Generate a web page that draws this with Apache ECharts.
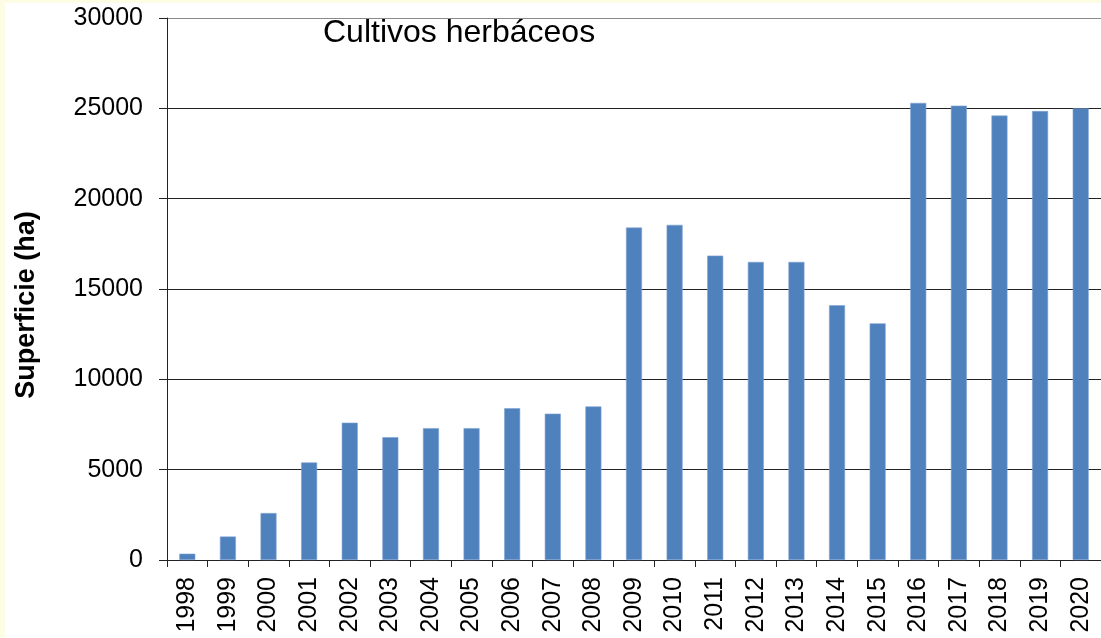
<!DOCTYPE html>
<html>
<head>
<meta charset="utf-8">
<script src="https://cdn.jsdelivr.net/npm/echarts@6/dist/echarts.min.js"></script>
<style>
  html, body { margin: 0; padding: 0; background: #fdfde6; }
  #wrap { position: absolute; left: 5px; top: 3px; width: 1096px; height: 635px; background: #fff; }
  #chart { width: 1096px; height: 635px; }
</style>
</head>
<body>
<div id="wrap"><div id="chart"></div></div>
<script>
// años (categorías)
var years = ['1998', '1999', '2000', '2001', '2002', '2003', '2004', '2005', '2006', '2007', '2008',
  '2009', '2010', '2011', '2012', '2013', '2014', '2015', '2016', '2017', '2018', '2019', '2020'];
// superficie en ha
var superficie = [350, 1300, 2600, 5400, 7600, 6800, 7300, 7300, 8400, 8100, 8500,
  18400, 18550, 16850, 16500, 16500, 14100, 13100, 25300, 25150, 24600, 24850, 25000];

var chart = echarts.init(document.getElementById('chart'));

chart.setOption({
  animation: false,
  backgroundColor: '#fff',
  title: {
    text: 'Cultivos herbáceos',
    left: 313,
    top: 9,
    textStyle: { fontFamily: 'Liberation Sans', fontSize: 32, fontWeight: 'normal', color: '#000' }
  },
  grid: { left: 159, top: 15, bottom: 78, right: -10 },
  xAxis: {
    type: 'category',
    data: years,
    axisLine: { lineStyle: { color: '#222', width: 1 } },
    axisTick: { show: true, length: 7, alignWithLabel: false, lineStyle: { color: '#222' } },
    axisLabel: {
      rotate: 90,
      margin: 17,
      interval: 0,
      fontFamily: 'Liberation Sans',
      fontSize: 25,
      color: '#000'
    }
  },
  yAxis: {
    type: 'value',
    min: 0,
    max: 30000,
    interval: 5000,
    name: 'Superficie (ha)',
    nameLocation: 'middle',
    nameRotate: 90,
    nameGap: 127,
    nameTextStyle: {
      fontFamily: 'Liberation Sans',
      fontSize: 27,
      fontWeight: 'bold',
      color: '#000',
      padding: [0, 32, 0, 0]
    },
    axisLine: { show: true, lineStyle: { color: '#222' } },
    axisTick: { show: true, length: 8, lineStyle: { color: '#222' } },
    axisLabel: {
      margin: 24,
      fontFamily: 'Liberation Sans',
      fontSize: 25,
      color: '#000',
      formatter: function (v) { return String(v); }
    },
    splitLine: {
      lineStyle: { color: ['#222', '#222', '#222', '#222', '#222', '#222', '#8a8a8a'], width: 1 }
    }
  },
  series: [{
    type: 'bar',
    data: superficie,
    barWidth: 16,
    itemStyle: { color: '#4f81bd', borderColor: '#7fa3d3', borderWidth: 0.6 }
  }]
});
</script>
</body>
</html>
